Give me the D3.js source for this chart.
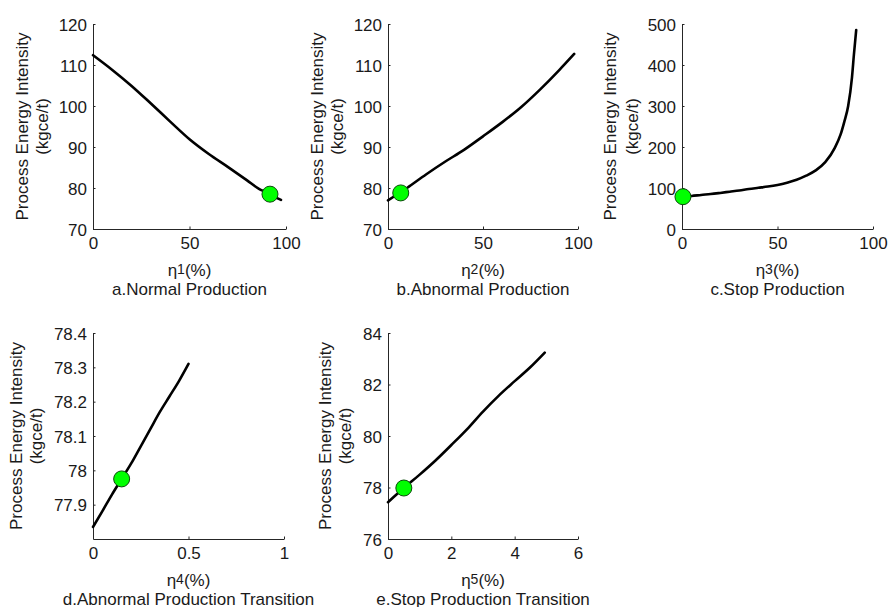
<!DOCTYPE html>
<html>
<head>
<meta charset="utf-8">
<script src="https://cdn.jsdelivr.net/npm/d3@7"></script>
<style>
  html, body { margin: 0; padding: 0; background: #fff; }
  svg { display: block; font-family: "Liberation Sans", Arial, sans-serif; }
</style>
</head>
<body>
<svg id="chart" width="888" height="607"></svg>
<script>
// ---- data ----
const aX = [0, 10, 20, 30, 40, 50, 60, 70, 80, 86, 90, 93, 97.4];
const aY = [112.4, 108.8, 104.9, 100.6, 96.2, 91.9, 88.3, 85.1, 81.8, 79.8, 78.9, 78.1, 77.1];
const aPoint = [91.7, 78.5];

const bX = [0, 10, 20, 30, 40, 50, 60, 70, 80, 90, 98];
const bY = [77.0, 80.0, 83.3, 86.4, 89.3, 92.6, 96.0, 99.7, 104.0, 108.7, 112.7];
const bPoint = [6.7, 78.8];

const cX = [0, 5, 10, 15, 20, 25, 30, 35, 40, 45, 50, 55, 60, 65, 70, 75, 80, 83, 85, 87, 89, 90, 91.2];
const cY = [79, 80.5, 83, 85.2, 88, 91, 94, 97.5, 100.5, 103.5, 107.5, 113, 120, 130, 143, 163, 198, 230, 262, 300, 370, 425, 485];
const cPoint = [0.5, 78.8];

const dX = [0, 0.05, 0.1, 0.15, 0.2, 0.25, 0.3, 0.35, 0.4, 0.45, 0.5];
const dY = [77.835, 77.882, 77.93, 77.975, 78.02, 78.07, 78.12, 78.17, 78.215, 78.26, 78.31];
const dPoint = [0.15, 77.975];

const eX = [0, 0.5, 1, 1.5, 2, 2.5, 3, 3.5, 4, 4.5, 4.95];
const eY = [77.43, 77.98, 78.5, 79.05, 79.65, 80.27, 80.95, 81.57, 82.13, 82.68, 83.24];
const ePoint = [0.5, 77.98];

const aXTicks = [0, 50, 100], aYTicks = [70, 80, 90, 100, 110, 120];
const bXTicks = [0, 50, 100], bYTicks = [70, 80, 90, 100, 110, 120];
const cXTicks = [0, 50, 100], cYTicks = [0, 100, 200, 300, 400, 500];
const dXTicks = [0, 0.5, 1], dYTicks = [77.9, 78.0, 78.1, 78.2, 78.3, 78.4];
const eXTicks = [0, 2, 4, 6], eYTicks = [76, 78, 80, 82, 84];

const etaIdx = ["1", "2", "3", "4", "5"];
const titles = ["a.Normal Production", "b.Abnormal Production", "c.Stop Production",
                "d.Abnormal Production Transition", "e.Stop Production Transition"];
const yLabel1 = "Process Energy Intensity";
const yLabel2 = "(kgce/t)";

// ---- layout ----
const panels = [
  { x: aX, y: aY, pt: aPoint, xd: [0, 100], yd: [70, 120], xt: aXTicks, yt: aYTicks, fmt: d => d,
    left: 93, top: 24, w: 193, h: 205, lab1: 71, lab2: 51 },
  { x: bX, y: bY, pt: bPoint, xd: [0, 100], yd: [70, 120], xt: bXTicks, yt: bYTicks, fmt: d => d,
    left: 388, top: 24, w: 190, h: 205, lab1: 71, lab2: 51 },
  { x: cX, y: cY, pt: cPoint, xd: [0, 100], yd: [0, 500], xt: cXTicks, yt: cYTicks, fmt: d => d,
    left: 682, top: 24, w: 191, h: 205, lab1: 72, lab2: 50 },
  { x: dX, y: dY, pt: dPoint, xd: [0, 1], yd: [77.8, 78.4], xt: dXTicks, yt: dYTicks, fmt: d => (Math.round(d * 10) / 10).toString(),
    left: 93, top: 333, w: 191, h: 206, lab1: 77, lab2: 57 },
  { x: eX, y: eY, pt: ePoint, xd: [0, 6], yd: [76, 84], xt: eXTicks, yt: eYTicks, fmt: d => d,
    left: 388, top: 333, w: 190, h: 206, lab1: 63, lab2: 43 }
];

const svg = d3.select("#chart");
const FS = 17;
const axisColor = "#262626";
const textColor = "#1a1a1a";

panels.forEach((p, i) => {
  const g = svg.append("g").attr("transform", `translate(${p.left},${p.top})`);
  const xs = d3.scaleLinear().domain(p.xd).range([0, p.w]);
  const ys = d3.scaleLinear().domain(p.yd).range([p.h, 0]);

  const xa = g.append("g").attr("transform", `translate(0,${p.h})`)
    .call(d3.axisBottom(xs).tickValues(p.xt).tickSizeInner(-2.5).tickSizeOuter(0).tickPadding(8).tickFormat(p.fmt));
  const ya = g.append("g")
    .call(d3.axisLeft(ys).tickValues(p.yt).tickSizeInner(-2.5).tickSizeOuter(0).tickPadding(6).tickFormat(p.fmt));
  [xa, ya].forEach(a => {
    a.select(".domain").attr("stroke", axisColor).attr("stroke-width", 1);
    a.selectAll(".tick line").attr("stroke", axisColor);
    a.selectAll(".tick text").attr("fill", textColor).style("font-size", FS + "px")
      .style("font-family", '"Liberation Sans", Arial, sans-serif');
  });
  xa.selectAll(".tick text").attr("dy", "0.71em");
  ya.selectAll(".tick text").attr("dy", "0.36em");

  const pts = p.x.map((v, k) => [v, p.y[k]]);
  g.append("path").datum(pts)
    .attr("fill", "none").attr("stroke", "#000").attr("stroke-width", 2.6)
    .attr("stroke-linejoin", "round").attr("stroke-linecap", "round")
    .attr("d", d3.line().curve(d3.curveMonotoneX).x(d => xs(d[0])).y(d => ys(d[1])));

  g.append("circle").attr("cx", xs(p.pt[0])).attr("cy", ys(p.pt[1])).attr("r", 8)
    .attr("fill", "#00ff00").attr("stroke", "#0b4a0b").attr("stroke-width", 1);

  const cy = p.h / 2;
  g.append("text").attr("text-anchor", "middle").attr("fill", textColor)
    .style("font-size", FS + "px")
    .attr("transform", `translate(${-p.lab1},${cy}) rotate(-90)`)
    .attr("dominant-baseline", "central").text(yLabel1);
  g.append("text").attr("text-anchor", "middle").attr("fill", textColor)
    .style("font-size", FS + "px")
    .attr("transform", `translate(${-p.lab2},${cy}) rotate(-90)`)
    .attr("dominant-baseline", "central").text(yLabel2);

  const xl = g.append("text").attr("text-anchor", "middle").attr("fill", textColor)
    .style("font-size", FS + "px")
    .attr("x", p.w / 2).attr("y", p.h + 41).attr("dominant-baseline", "central");
  xl.append("tspan").text("η");
  xl.append("tspan").style("font-size", "14px").attr("dy", "-1.5").text(etaIdx[i]);
  xl.append("tspan").attr("dy", "1.5").text("(%)");

  g.append("text").attr("text-anchor", "middle").attr("fill", textColor)
    .style("font-size", FS + "px")
    .attr("x", p.w / 2).attr("y", p.h + 60).attr("dominant-baseline", "central")
    .text(titles[i]);
});
</script>
</body>
</html>
